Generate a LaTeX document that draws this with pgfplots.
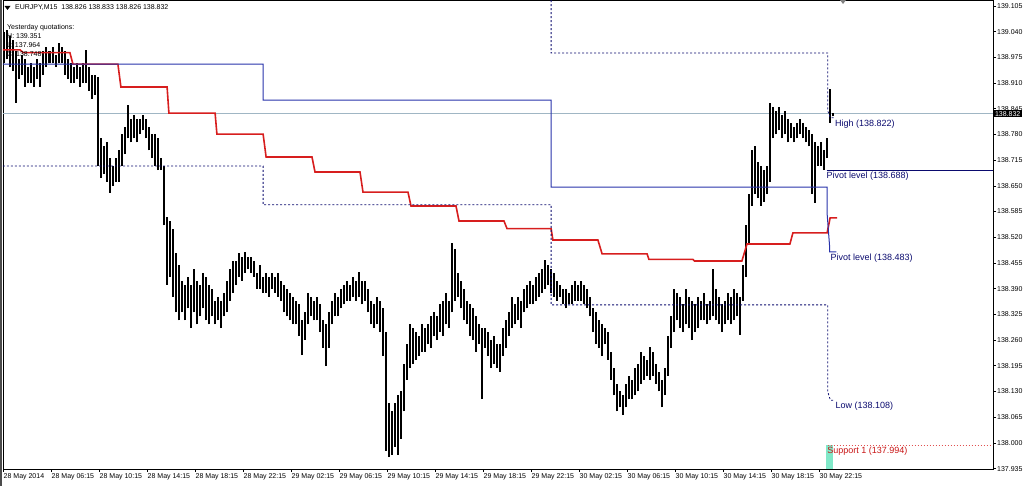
\documentclass[border=0pt]{standalone}
\usepackage{fontspec}
\setmainfont{Liberation Sans}
\newfontfamily\djv{DejaVu Sans}
\usepackage{pgfplots}
\pgfplotsset{compat=1.18}
\usepackage{pgfplotstable}

\definecolor{redl}{RGB}{215,30,30}
\definecolor{bluel}{RGB}{40,50,170}
\definecolor{navyl}{RGB}{10,10,110}
\definecolor{bidl}{RGB}{160,182,196}
\definecolor{mint}{RGB}{128,232,200}
\definecolor{supred}{RGB}{225,80,80}
\definecolor{labred}{RGB}{200,20,20}

\pgfplotstableread{
i h l
0 139.040 138.960
1 139.045 138.970
2 139.030 138.950
3 139.020 138.940
4 138.990 138.860
5 138.970 138.920
6 138.980 138.930
7 138.970 138.900
8 138.950 138.910
9 138.960 138.910
10 138.950 138.900
11 138.970 138.920
12 138.960 138.900
13 138.990 138.930
14 139.000 138.950
15 138.990 138.960
16 139.000 138.960
17 138.980 138.950
18 139.011 138.960
19 139.000 138.960
20 138.990 138.930
21 138.970 138.920
22 138.960 138.910
23 138.950 138.910
24 138.960 138.920
25 138.950 138.900
26 138.960 138.910
27 138.994 138.910
28 138.950 138.890
29 138.930 138.870
30 138.930 138.880
31 138.925 138.700
32 138.770 138.670
33 138.750 138.680
34 138.760 138.660
35 138.720 138.632
36 138.700 138.650
37 138.720 138.660
38 138.740 138.660
39 138.780 138.700
40 138.800 138.730
41 138.855 138.770
42 138.820 138.760
43 138.830 138.770
44 138.820 138.760
45 138.820 138.780
46 138.830 138.790
47 138.820 138.770
48 138.800 138.740
49 138.780 138.720
50 138.780 138.700
51 138.770 138.690
52 138.720 138.690
53 138.700 138.550
54 138.570 138.400
55 138.560 138.420
56 138.540 138.370
57 138.480 138.330
58 138.450 138.310
59 138.410 138.330
60 138.400 138.310
61 138.420 138.340
62 138.400 138.290
63 138.440 138.330
64 138.410 138.300
65 138.400 138.320
66 138.430 138.340
67 138.420 138.310
68 138.400 138.300
69 138.390 138.320
70 138.360 138.300
71 138.370 138.310
72 138.360 138.290
73 138.380 138.320
74 138.410 138.330
75 138.440 138.360
76 138.460 138.380
77 138.460 138.400
78 138.480 138.420
79 138.470 138.410
80 138.483 138.430
81 138.470 138.440
82 138.470 138.430
83 138.460 138.420
84 138.430 138.390
85 138.450 138.390
86 138.420 138.380
87 138.430 138.380
88 138.420 138.370
89 138.430 138.390
90 138.420 138.380
91 138.430 138.370
92 138.410 138.360
93 138.400 138.330
94 138.390 138.320
95 138.380 138.310
96 138.370 138.300
97 138.360 138.300
98 138.350 138.270
99 138.310 138.222
100 138.330 138.260
101 138.380 138.300
102 138.370 138.320
103 138.360 138.310
104 138.370 138.310
105 138.350 138.280
106 138.310 138.240
107 138.300 138.194
108 138.330 138.240
109 138.360 138.300
110 138.380 138.320
111 138.370 138.320
112 138.390 138.340
113 138.400 138.350
114 138.410 138.360
115 138.400 138.360
116 138.420 138.370
117 138.410 138.360
118 138.432 138.370
119 138.410 138.350
120 138.410 138.360
121 138.390 138.330
122 138.360 138.300
123 138.350 138.290
124 138.370 138.300
125 138.360 138.280
126 138.340 138.220
127 138.280 137.980
128 138.100 137.964
129 138.080 137.970
130 138.100 137.990
131 138.120 137.970
132 138.130 138.010
133 138.200 138.080
134 138.250 138.160
135 138.300 138.190
136 138.290 138.200
137 138.280 138.210
138 138.270 138.220
139 138.300 138.230
140 138.290 138.230
141 138.300 138.250
142 138.320 138.240
143 138.330 138.270
144 138.320 138.260
145 138.350 138.280
146 138.360 138.270
147 138.380 138.300
148 138.360 138.290
149 138.505 138.330
150 138.490 138.360
151 138.430 138.370
152 138.410 138.340
153 138.390 138.310
154 138.360 138.300
155 138.350 138.270
156 138.340 138.260
157 138.320 138.230
158 138.300 138.250
159 138.290 138.111
160 138.290 138.240
161 138.280 138.220
162 138.260 138.190
163 138.270 138.200
164 138.250 138.190
165 138.250 138.180
166 138.290 138.220
167 138.310 138.240
168 138.330 138.270
169 138.370 138.290
170 138.350 138.300
171 138.370 138.310
172 138.360 138.290
173 138.390 138.330
174 138.400 138.340
175 138.410 138.350
176 138.400 138.350
177 138.420 138.360
178 138.430 138.370
179 138.440 138.380
180 138.462 138.390
181 138.450 138.400
182 138.440 138.380
183 138.430 138.370
184 138.410 138.360
185 138.400 138.370
186 138.390 138.350
187 138.390 138.340
188 138.380 138.350
189 138.400 138.350
190 138.410 138.360
191 138.400 138.360
192 138.410 138.360
193 138.400 138.350
194 138.390 138.340
195 138.370 138.320
196 138.340 138.280
197 138.330 138.250
198 138.310 138.240
199 138.300 138.220
200 138.290 138.250
201 138.280 138.210
202 138.230 138.160
203 138.190 138.120
204 138.150 138.080
205 138.130 138.090
206 138.120 138.070
207 138.150 138.090
208 138.170 138.110
209 138.160 138.110
210 138.190 138.120
211 138.200 138.130
212 138.230 138.150
213 138.220 138.160
214 138.210 138.170
215 138.243 138.160
216 138.230 138.170
217 138.200 138.150
218 138.180 138.130
219 138.160 138.090
220 138.190 138.120
221 138.270 138.170
222 138.320 138.240
223 138.390 138.280
224 138.380 138.310
225 138.370 138.290
226 138.350 138.280
227 138.390 138.300
228 138.370 138.290
229 138.360 138.260
230 138.350 138.280
231 138.370 138.290
232 138.360 138.310
233 138.380 138.310
234 138.350 138.300
235 138.360 138.310
236 138.440 138.320
237 138.390 138.310
238 138.370 138.300
239 138.350 138.280
240 138.360 138.300
241 138.380 138.310
242 138.370 138.300
243 138.390 138.310
244 138.380 138.320
245 138.370 138.273
246 138.450 138.360
247 138.550 138.420
248 138.630 138.500
249 138.740 138.600
250 138.750 138.630
251 138.710 138.620
252 138.700 138.600
253 138.690 138.610
254 138.700 138.630
255 138.860 138.660
256 138.850 138.770
257 138.840 138.780
258 138.850 138.790
259 138.830 138.770
260 138.840 138.780
261 138.820 138.760
262 138.810 138.770
263 138.800 138.760
264 138.810 138.770
265 138.820 138.780
266 138.810 138.770
267 138.800 138.760
268 138.790 138.750
269 138.780 138.630
270 138.760 138.607
271 138.750 138.700
272 138.760 138.700
273 138.740 138.690
274 138.770 138.720
275 138.895 138.810
276 138.833 138.826
}\bars

\pgfplotstableread{
x y
-0.5 138.994
5.2 138.994
6.2 138.987
21.8 138.987
22.8 138.958
37.8 138.958
38.8 138.900
54.2 138.900
54.8 138.834
70.2 138.834
70.8 138.781
86.2 138.781
87.2 138.723
102.5 138.723
103.5 138.685
118.5 138.685
119.5 138.634
134.5 138.634
135.5 138.599
150.5 138.599
151.5 138.561
166.5 138.561
167.5 138.542
182.2 138.542
182.8 138.513
197.8 138.513
199.2 138.478
214.2 138.478
214.8 138.464
229.5 138.464
230.0 138.460
245.8 138.460
247.5 138.503
261.8 138.503
262.8 138.531
274.2 138.531
275.2 138.569
277.5 138.569
}\redline

\begin{document}
\begin{tikzpicture}
\begin{axis}[
  scale only axis, width=990pt, height=469pt,
  xmin=-0.5, xmax=329.5, ymin=137.934, ymax=139.120,
  axis line style={black, line width=0.8pt},
  tick align=outside, major tick length=3pt,
  tick style={black, line width=0.6pt},
  xtick pos=left, ytick pos=right,
  yticklabel pos=right,
  xtick={-0.5,15.5,...,271.5},
  xticklabels={28 May 2014, 28 May 06:15, 28 May 10:15, 28 May 14:15, 28 May 18:15, 28 May 22:15, 29 May 02:15, 29 May 06:15, 29 May 10:15, 29 May 14:15, 29 May 18:15, 29 May 22:15, 30 May 02:15, 30 May 06:15, 30 May 10:15, 30 May 14:15, 30 May 18:15, 30 May 22:15},
  ytick={137.935,138.000,138.065,138.130,138.195,138.260,138.325,138.390,138.455,138.520,138.585,138.650,138.715,138.780,138.845,138.910,138.975,139.040,139.105},
  yticklabels={137.935,138.000,138.065,138.130,138.195,138.260,138.325,138.390,138.455,138.520,138.585,138.650,138.715,138.780,138.845,138.910,138.975,139.040,139.105},
  xticklabel style={anchor=north west, font=\fontsize{7}{8}\selectfont, inner xsep=0.5pt, inner ysep=1pt},
  yticklabel style={anchor=west, font=\fontsize{7}{8}\selectfont, inner xsep=1pt},
  clip=true,
]
% bid line
\addplot[bidl, line width=0.8pt, forget plot] coordinates {(-0.5,138.832) (329.5,138.832)};
% candles (high-low)
\addplot[draw=none, mark=none, forget plot,
  error bars/.cd, y dir=plus, y explicit, error mark=none,
  error bar style={line width=2pt, draw=black, solid}]
  table[x=i, y=l, y error plus expr=\thisrow{h}-\thisrow{l}] {\bars};
% red stepped line
\addplot[redl, line width=1.6pt, forget plot] table[x=x, y=y] {\redline};
% pivot line
\addplot[bluel, line width=1pt, forget plot] coordinates {(-0.5,138.958) (86.2,138.958) (86.2,138.867) (182.2,138.867) (182.2,138.647) (274.2,138.647) (274.2,138.58) (275.0,138.50) (275.0,138.483) (277.3,138.483)};
\addplot[navyl, line width=1pt, forget plot] coordinates {(274.0,138.688) (329.5,138.688)};
% high / low dashed lines
\addplot[navyl, line width=0.8pt, dash pattern=on 2pt off 2pt, forget plot] coordinates {(-0.5,138.700) (86.2,138.700) (86.2,138.602) (182.2,138.602) (182.2,138.349) (274.4,138.349) (274.4,138.13) (275.3,138.108) (276.5,138.108)};
\addplot[navyl, line width=0.8pt, dash pattern=on 2pt off 2pt, forget plot] coordinates {(182.2,139.13) (182.2,138.986) (274.4,138.986) (274.4,138.84) (275.3,138.822) (276.5,138.822)};
% support 1
\addplot[fill=mint, draw=none, forget plot] coordinates {(273.9,137.994) (276.2,137.994) (276.2,137.90) (273.9,137.90)} -- cycle;
\addplot[supred, line width=0.8pt, dash pattern=on 1.5pt off 1.5pt, forget plot] coordinates {(274.4,137.994) (329.5,137.994)};
% level labels
\node[anchor=north west, inner sep=0pt, text=navyl, font=\fontsize{9}{10}\selectfont] at (axis cs:276.8,138.817) {High (138.822)};
\node[anchor=north west, inner sep=0pt, text=navyl, font=\fontsize{9}{10}\selectfont] at (axis cs:274.0,138.685) {Pivot level (138.688)};
\node[anchor=north west, inner sep=0pt, text=navyl, font=\fontsize{9}{10}\selectfont] at (axis cs:275.3,138.479) {Pivot level (138.483)};
\node[anchor=north west, inner sep=0pt, text=navyl, font=\fontsize{9}{10}\selectfont] at (axis cs:277.0,138.104) {Low (138.108)};
\node[anchor=north west, inner sep=0pt, text=labred, font=\fontsize{9}{10}\selectfont] at (axis cs:274.2,137.991) {Support 1 (137.994)};
\coordinate (pb) at (axis cs:329.5,138.832);
\end{axis}
% price box on the scale
\node[fill=black, text=white, anchor=west, inner xsep=1.2pt, inner ysep=1pt, font=\fontsize{7}{8}\selectfont] at ([xshift=0.6pt]pb) {138.832};
% header and info text
\fill[black] (1.5pt,463pt) -- (7.5pt,463pt) -- (4.5pt,459pt) -- cycle;
\node[anchor=north west, inner sep=0pt, font=\fontsize{7}{8}\selectfont] at (12pt,465pt) {EURJPY,M15\ \ 138.826 138.833 138.826 138.832};
\node[anchor=north west, inner sep=0pt, font=\fontsize{7}{8}\selectfont] at (4pt,445pt) {Yesterday quotations:};
\node[anchor=north west, inner sep=0pt, font=\fontsize{7}{8}\selectfont] at (4pt,436pt) {H: 139.351};
\node[anchor=north west, inner sep=0pt, font=\fontsize{7}{8}\selectfont] at (4pt,427pt) {L: 137.964};
\node[anchor=north west, inner sep=0pt, font=\fontsize{7}{8}\selectfont] at (4pt,418pt) {C: 138.748};
% chart shift marker
\fill[gray] (837pt,469pt) -- (843pt,469pt) -- (840pt,465pt) -- cycle;
% window frame
\draw[gray!60!black, line width=1.5pt] (-2.2pt,-17pt) -- (-2.2pt,469pt);
\pgfresetboundingbox
\path (-3pt,-17pt) rectangle (1021pt,469pt);
\end{tikzpicture}
\end{document}
